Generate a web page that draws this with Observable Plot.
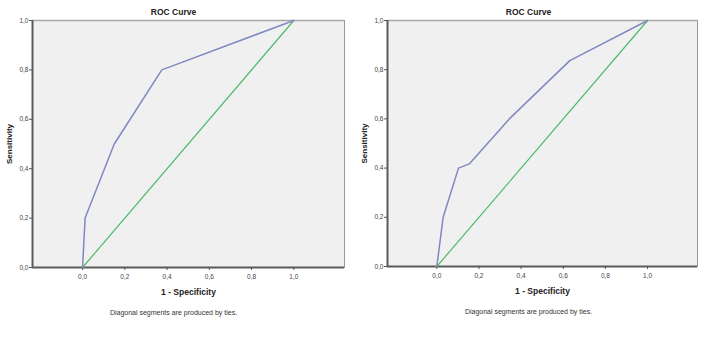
<!DOCTYPE html>
<html>
<head>
<meta charset="utf-8">
<script src="https://cdn.jsdelivr.net/npm/d3@7"></script>
<script src="https://cdn.jsdelivr.net/npm/@observablehq/plot@0.6"></script>
<style>
  body { margin: 0; background: #fff; }
  #wrap { display: flex; width: 704px; height: 342px; }
  #wrap > * { flex: none; }
</style>
</head>
<body>
<div id="wrap"></div>
<script>
const title = "ROC Curve";
const xLabel = "1 - Specificity";
const yLabel = "Sensitivity";
const caption = "Diagonal segments are produced by ties.";
const ticks = [0, 0.2, 0.4, 0.6, 0.8, 1.0];

// left chart ROC points (1 - specificity, sensitivity)
const leftFpr = [0, 0.012, 0.15, 0.375, 1];
const leftTpr = [0, 0.2, 0.5, 0.8, 1];
// right chart ROC points
const rightFpr = [0, 0.03, 0.103, 0.154, 0.344, 0.631, 1];
const rightTpr = [0, 0.2, 0.40, 0.417, 0.60, 0.837, 1];
// reference diagonal
const diagFpr = [0, 1];
const diagTpr = [0, 1];

const fmt = d => d.toFixed(1).replace(".", ",");
const font = "Liberation Sans, Arial, sans-serif";

function chart(fpr, tpr, m) {
  const pts = fpr.map((x, i) => ({x, y: tpr[i]}));
  const diag = diagFpr.map((x, i) => ({x, y: diagTpr[i]}));
  const xd = [m.xmin, m.xmax];
  return Plot.plot({
    width: 352, height: 342,
    marginTop: 20, marginLeft: m.left, marginRight: m.right, marginBottom: m.bottom,
    style: {fontFamily: font, background: "transparent", color: "#444"},
    x: {domain: xd},
    y: {domain: [0, 1]},
    marks: [
      Plot.frame({fill: "#f0f0f0", stroke: "#9a9a9a", strokeWidth: 1}),
      Plot.ruleY([1], {stroke: "#a8a8a8", strokeWidth: 1.5}),
      Plot.ruleX([m.xmin], {stroke: "#5a5a5a", strokeWidth: 2}),
      Plot.ruleY([0], {stroke: "#5a5a5a", strokeWidth: 2}),
      Plot.axisY({ticks, tickFormat: fmt, tickSize: 3, tickPadding: 1, fontSize: 6.5, label: null, stroke: "#555"}),
      Plot.axisX({ticks, tickFormat: fmt, tickSize: 3, tickPadding: 4, fontSize: 6.5, label: null, stroke: "#555"}),
      Plot.line(diag, {x: "x", y: "y", stroke: "#4dba6a", strokeWidth: 1.2}),
      Plot.line(pts, {x: "x", y: "y", stroke: "#8088c2", strokeWidth: 1.5}),
      Plot.text([title], {frameAnchor: "top", lineAnchor: "middle", dy: -8, dx: m.tdx, fontSize: 8.5, fontWeight: "bold", fill: "#222"}),
      Plot.text([yLabel], {frameAnchor: "left", textAnchor: "middle", lineAnchor: "middle", dx: m.ydx, rotate: -90, fontSize: 8, fontWeight: "bold", fill: "#222"}),
      Plot.text([xLabel], {frameAnchor: "bottom", lineAnchor: "middle", dy: 25, fontSize: 8.5, fontWeight: "bold", fill: "#222"}),
      Plot.text([caption], {frameAnchor: "bottom", lineAnchor: "middle", dy: 45, dx: m.tdx, fontSize: 7, fill: "#333"})
    ]
  });
}

const wrap = document.getElementById("wrap");
wrap.append(chart(leftFpr, leftTpr, {left: 32, right: 8, bottom: 75, xmin: -0.237, xmax: 1.24, tdx: -15, ydx: -23}));
wrap.append(chart(rightFpr, rightTpr, {left: 35, right: 7, bottom: 76, xmin: -0.234, xmax: 1.237, tdx: -14, ydx: -23}));
</script>
</body>
</html>
